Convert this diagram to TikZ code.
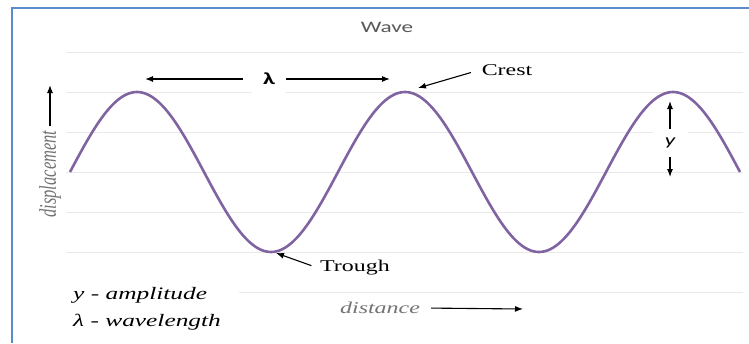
\documentclass[tikz,border=0pt]{standalone}
\usepackage{fontspec}
\setmainfont{Liberation Serif}
\newfontfamily\calfont{Carlito}
\usetikzlibrary{arrows.meta}
\definecolor{wavepurple}{RGB}{128,100,162}
\definecolor{gridgray}{RGB}{233,233,233}
\definecolor{frameblue}{RGB}{91,139,205}
\definecolor{titlegray}{RGB}{89,89,89}
\definecolor{axisgray}{RGB}{115,115,115}
\newcommand{\stretchx}[1]{\scalebox{1.45}[1]{#1}}

\begin{document}
\begin{tikzpicture}[
  x=1pt,y=1pt,
  lbl/.style={font=\fontsize{16.5}{19}\selectfont,inner sep=2pt},
  legend/.style={font=\itshape\fontsize{17.5}{19}\selectfont,anchor=west,inner sep=1pt},
  gridln/.style={draw=gridgray,line width=1pt},
  wave/.style={draw=wavepurple,line width=2.6pt},
  arr/.style={-{Latex[length=8pt,width=6pt]},line width=1.1pt},
  gap/.style={fill=white,inner sep=0pt},
]
\useasboundingbox[fill=white] (0,0) rectangle (749,-343);
\draw[frameblue,line width=2pt] (749,-8) -- (12,-8) -- (12,-343);

% grid
\foreach \gy in {52,92,...,252}
  \draw[gridln] (66,-\gy) -- (743,-\gy);
\draw[gridln] (239,-292) -- (743,-292);

% the wave (period 268)
\draw[wave] plot[domain=70:740,samples=241,smooth] (\x,{-172+80*sin(1.343284*(\x-70))});

\node[font=\calfont\fontsize{16}{19}\selectfont,text=titlegray] (title) at (387,-27) {\stretchx{Wave}};

% wavelength
\node[gap,minimum width=34pt,minimum height=30pt,font=\calfont\bfseries\fontsize{17}{19}\selectfont] (lam) at (269,-79) {\stretchx{λ}};
\coordinate (lamL) at (145,-79);
\coordinate (lamR) at (390,-79);
\draw[arr,shorten <=9pt] (lam.west) -- (lamL);
\draw[arr] (lam.east) -- (lamR);

% crest and trough
\node[lbl] (crest) at (507,-70) {\stretchx{Crest}};
\coordinate (crestpt) at (418,-88);
\draw[arr,shorten <=9pt] (crest.west) -- (crestpt);
\node[lbl] (trough) at (355,-268) {\stretchx{Trough}};
\coordinate (troughpt) at (276,-253);
\draw[arr,shorten <=7pt] (trough.west) -- (troughpt);

% amplitude
\node[gap,minimum width=35pt,minimum height=28pt,font=\calfont\itshape\fontsize{16}{19}\selectfont] (amp) at (670,-143) {\stretchx{y}};
\coordinate (amptop) at (670,-101);
\coordinate (ampbot) at (670,-177);
\draw[arr] (amp.north) -- (amptop);
\draw[arr] (amp.south) -- (ampbot);

% axes
\node[lbl,font=\itshape\fontsize{16.5}{19}\selectfont,text=axisgray,rotate=90,inner sep=1pt] (disp) at (50,-174) {\scalebox{1}[1.45]{displacement}};
\coordinate (dispend) at (50,-85);
\draw[arr,shorten <=3pt] (disp.east) -- (dispend);
\node[lbl,font=\itshape\fontsize{16.5}{19}\selectfont,text=axisgray] (dist) at (380,-308) {\stretchx{distance}};
\coordinate (distend) at (523,-309);
\draw[arr,shorten <=9pt] (dist.east) -- (distend);

% legend
\node[legend] (leg1) at (72,-295) {\stretchx{y - amplitude}};
\node[legend] (leg2) at (72,-322) {\stretchx{λ - wavelength}};
\end{tikzpicture}
\end{document}
